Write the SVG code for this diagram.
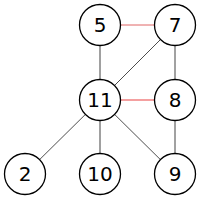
<svg xmlns="http://www.w3.org/2000/svg" width="200" height="200" viewBox="0 0 200 200">
<style>
.n circle{fill:#fff;stroke:#000;stroke-width:1.3}
.n text{font-family:"DejaVu Sans",sans-serif;font-size:20px;text-anchor:middle;dominant-baseline:central;fill:#000}
</style>
<rect width="200" height="200" fill="#fff"/>
<g id="edges" fill="none">
<line x1="100" y1="25" x2="175" y2="25" stroke="#e06666" stroke-width="1"/>
<line x1="100" y1="25" x2="100" y2="100" stroke="#808080" stroke-width="1.5"/>
<line x1="175" y1="25" x2="100" y2="100" stroke="#000" stroke-width="0.7"/>
<line x1="175" y1="25" x2="175" y2="100" stroke="#444" stroke-width="1"/>
<line x1="100" y1="100" x2="175" y2="100" stroke="#f08080" stroke-width="1.5"/>
<line x1="100" y1="100" x2="25" y2="174" stroke="#000" stroke-width="0.7"/>
<line x1="100" y1="100" x2="100" y2="174" stroke="#808080" stroke-width="1.5"/>
<line x1="100" y1="100" x2="175" y2="174" stroke="#000" stroke-width="0.7"/>
<line x1="175" y1="100" x2="175" y2="174" stroke="#444" stroke-width="1"/>
</g>
<g id="n5" class="n"><circle cx="100" cy="25" r="20.5"/><text x="100" y="25">5</text></g>
<g id="n7" class="n"><circle cx="175" cy="25" r="20.5"/><text x="175" y="25">7</text></g>
<g id="n11" class="n"><circle cx="100" cy="100" r="20.5"/><text x="100" y="100">11</text></g>
<g id="n8" class="n"><circle cx="175" cy="100" r="20.5"/><text x="175" y="100">8</text></g>
<g id="n2" class="n"><circle cx="25" cy="174" r="20.5"/><text x="25" y="174">2</text></g>
<g id="n10" class="n"><circle cx="100" cy="174" r="20.5"/><text x="100" y="174">10</text></g>
<g id="n9" class="n"><circle cx="175" cy="174" r="20.5"/><text x="175" y="174">9</text></g>
</svg>
